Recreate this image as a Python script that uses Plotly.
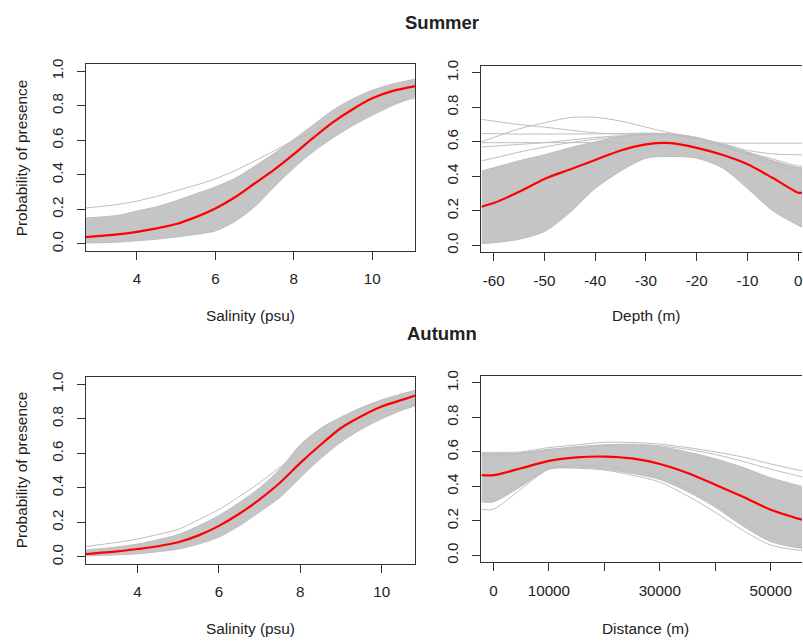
import plotly.graph_objects as go

# ---------------- data ----------------
# Summer - salinity
sal_s_x = [2.7, 3.5, 4.0, 4.5, 5.0, 5.5, 6.0, 6.5, 7.0, 7.5, 8.0, 8.5, 9.0, 9.5, 10.0, 10.5, 11.1]
sal_s_red = [0.040, 0.055, 0.070, 0.090, 0.115, 0.155, 0.205, 0.270, 0.350, 0.430, 0.520, 0.615, 0.705, 0.780, 0.843, 0.885, 0.914]
sal_s_lo = [0.005, 0.010, 0.018, 0.027, 0.040, 0.055, 0.075, 0.130, 0.215, 0.330, 0.440, 0.535, 0.615, 0.685, 0.745, 0.800, 0.855]
sal_s_hi = [0.150, 0.165, 0.190, 0.215, 0.250, 0.290, 0.330, 0.380, 0.450, 0.525, 0.605, 0.690, 0.775, 0.840, 0.890, 0.925, 0.955]
sal_s_out = [0.208, 0.228, 0.248, 0.275, 0.308, 0.340, 0.377, 0.425, 0.480, 0.540, 0.600, 0.650, 0.700, 0.745, 0.785, 0.815, 0.845]

# Summer - depth
dep_x = [-62.4, -60, -55, -50, -45, -40, -35, -30, -25, -20, -15, -10, -5, 0, 0.73]
dep_red = [0.224, 0.245, 0.310, 0.385, 0.440, 0.495, 0.550, 0.585, 0.592, 0.565, 0.525, 0.470, 0.390, 0.305, 0.305]
dep_lo = [0.010, 0.015, 0.035, 0.080, 0.190, 0.330, 0.430, 0.505, 0.515, 0.505, 0.450, 0.330, 0.200, 0.115, 0.105]
dep_hi = [0.430, 0.450, 0.490, 0.525, 0.565, 0.600, 0.630, 0.648, 0.645, 0.625, 0.585, 0.540, 0.490, 0.450, 0.450]
dep_line_a = [0.730, 0.720, 0.700, 0.685, 0.668, 0.652, 0.645, 0.642, 0.640, 0.620, 0.590, 0.550, 0.530, 0.525, 0.525]
dep_line_b = [0.600, 0.625, 0.675, 0.710, 0.740, 0.742, 0.720, 0.685, 0.650, 0.625, 0.585, 0.540, 0.500, 0.460, 0.460]
dep_line_c = [0.595, 0.595, 0.595, 0.595, 0.595, 0.595, 0.595, 0.595, 0.595, 0.593, 0.592, 0.592, 0.592, 0.592, 0.592]
dep_line_d = [0.648, 0.647, 0.645, 0.645, 0.645, 0.646, 0.648, 0.650, 0.645, 0.620, 0.580, 0.530, 0.490, 0.450, 0.450]
dep_line_e = [0.490, 0.505, 0.540, 0.570, 0.595, 0.615, 0.630, 0.640, 0.640, 0.620, 0.580, 0.535, 0.485, 0.445, 0.445]
dep_line_f = [0.570, 0.575, 0.585, 0.595, 0.610, 0.625, 0.635, 0.640, 0.640, 0.620, 0.575, 0.525, 0.470, 0.420, 0.420]

# Autumn - salinity
sal_a_x = [2.73, 3.5, 4.0, 4.5, 5.0, 5.5, 6.0, 6.5, 7.0, 7.5, 8.0, 8.5, 9.0, 9.5, 10.0, 10.5, 10.83]
sal_a_red = [0.017, 0.032, 0.046, 0.062, 0.085, 0.125, 0.180, 0.250, 0.334, 0.430, 0.545, 0.650, 0.747, 0.815, 0.871, 0.910, 0.935]
sal_a_lo = [0.006, 0.012, 0.018, 0.030, 0.046, 0.075, 0.115, 0.180, 0.260, 0.345, 0.460, 0.570, 0.665, 0.740, 0.800, 0.850, 0.875]
sal_a_hi = [0.040, 0.058, 0.075, 0.100, 0.130, 0.180, 0.240, 0.315, 0.400, 0.510, 0.650, 0.745, 0.810, 0.865, 0.910, 0.945, 0.965]
sal_a_out = [0.060, 0.085, 0.104, 0.130, 0.160, 0.215, 0.275, 0.350, 0.430, 0.520, 0.600, 0.680, 0.740, 0.790, 0.835, 0.865, 0.885]

# Autumn - distance
dist_x = [-2160, 0, 5000, 10000, 15000, 20000, 25000, 30000, 35000, 40000, 45000, 50000, 55640]
dist_red = [0.465, 0.465, 0.505, 0.548, 0.568, 0.573, 0.562, 0.530, 0.478, 0.410, 0.340, 0.265, 0.207]
dist_lo = [0.310, 0.310, 0.400, 0.500, 0.510, 0.500, 0.475, 0.440, 0.370, 0.280, 0.170, 0.080, 0.040]
dist_hi = [0.590, 0.590, 0.595, 0.615, 0.630, 0.640, 0.640, 0.630, 0.600, 0.560, 0.510, 0.450, 0.400]
dist_line_a = [0.597, 0.597, 0.600, 0.625, 0.640, 0.655, 0.655, 0.645, 0.625, 0.600, 0.570, 0.530, 0.490]
dist_line_b = [0.580, 0.580, 0.590, 0.610, 0.625, 0.640, 0.645, 0.635, 0.615, 0.585, 0.545, 0.500, 0.455]
dist_line_c = [0.267, 0.268, 0.385, 0.500, 0.520, 0.520, 0.500, 0.460, 0.390, 0.300, 0.200, 0.110, 0.060]
dist_line_d = [0.330, 0.330, 0.410, 0.500, 0.505, 0.495, 0.465, 0.425, 0.345, 0.250, 0.145, 0.060, 0.028]

y_ticks = [0.0, 0.2, 0.4, 0.6, 0.8, 1.0]
y_labels = ["0.0", "0.2", "0.4", "0.6", "0.8", "1.0"]
sal_ticks = [4, 6, 8, 10]
dep_ticks = [-60, -50, -40, -30, -20, -10, 0]
dist_ticks = [0, 10000, 20000, 30000, 40000, 50000]
dist_labels = ["0", "10000", "", "30000", "", "50000"]

# ---------------- styling ----------------
W, H = 803, 641
GREY = "#BEBEBE"
FILL = "#C5C5C5"
RED = "#FF0000"
AX = "#333333"
TXT = "#222222"
FONT = "Liberation Sans, Arial, sans-serif"


def px_x(p):
    return p / W


def px_y(p):
    return 1 - p / H


panels = [
    dict(sfx="", x=sal_s_x, red=sal_s_red, lo=sal_s_lo, hi=sal_s_hi, lines=[sal_s_out],
         xdom=(86, 416), ydom=(59, 247.5), xr=[2.70, 11.10], tv=sal_ticks, tt=[str(t) for t in sal_ticks], right=False),
    dict(sfx="2", x=dep_x, red=dep_red, lo=dep_lo, hi=dep_hi,
         lines=[dep_line_a, dep_line_b, dep_line_c, dep_line_d, dep_line_e, dep_line_f],
         xdom=(482, 803), ydom=(60.5, 249), xr=[-62.42, 0.73], tv=dep_ticks, tt=[str(t) for t in dep_ticks], right=True),
    dict(sfx="3", x=sal_a_x, red=sal_a_red, lo=sal_a_lo, hi=sal_a_hi, lines=[sal_a_out],
         xdom=(86, 416), ydom=(375.5, 564), xr=[2.73, 10.83], tv=sal_ticks, tt=[str(t) for t in sal_ticks], right=False),
    dict(sfx="4", x=dist_x, red=dist_red, lo=dist_lo, hi=dist_hi,
         lines=[dist_line_a, dist_line_b, dist_line_c, dist_line_d],
         xdom=(482, 803), ydom=(374, 562.5), xr=[-2160, 55640], tv=dist_ticks, tt=dist_labels, right=True),
]

fig = go.Figure()
layout_axes = {}
for p in panels:
    xa = "x" + p["sfx"]
    ya = "y" + p["sfx"]
    common = dict(xaxis=xa, yaxis=ya, mode="lines", hoverinfo="skip", showlegend=False)
    fig.add_trace(go.Scatter(x=p["x"], y=p["lo"], line=dict(color=GREY, width=1, shape="spline", smoothing=0.8), **common))
    fig.add_trace(go.Scatter(x=p["x"], y=p["hi"], fill="tonexty", fillcolor=FILL,
                             line=dict(color=GREY, width=1, shape="spline", smoothing=0.8), **common))
    for ln in p["lines"]:
        fig.add_trace(go.Scatter(x=p["x"], y=ln, line=dict(color=GREY, width=1, shape="spline", smoothing=0.8), **common))
    fig.add_trace(go.Scatter(x=p["x"], y=p["red"], line=dict(color=RED, width=2.2, shape="spline", smoothing=0.8), **common))

    tickfont = dict(family=FONT, size=15.2, color=TXT)
    layout_axes["xaxis" + p["sfx"]] = dict(
        domain=[px_x(p["xdom"][0]), px_x(p["xdom"][1])], range=p["xr"], anchor=ya,
        tickmode="array", tickvals=p["tv"], ticktext=p["tt"], ticks="outside", ticklen=8,
        tickwidth=1, tickcolor=AX, showline=True, linecolor=AX, linewidth=1, mirror=True,
        showgrid=False, zeroline=False, tickfont=tickfont, ticklabelstandoff=6,
        ticklabeloverflow="allow", fixedrange=True)
    layout_axes["yaxis" + p["sfx"]] = dict(
        domain=[px_y(p["ydom"][1]), px_y(p["ydom"][0])], range=[-0.04, 1.04], anchor=xa,
        tickmode="array", tickvals=y_ticks, ticktext=y_labels, ticks="outside", ticklen=8,
        tickwidth=1, tickcolor=AX, showline=True, linecolor=AX, linewidth=1,
        mirror=(not p["right"]), showgrid=False, zeroline=False, tickfont=tickfont,
        tickangle=-90, ticklabelstandoff=8, fixedrange=True)

def ann(text, x, y, size=15.4, bold=False, angle=0):
    return dict(text=("<b>%s</b>" % text) if bold else text, x=px_x(x), y=px_y(y), xref="paper", yref="paper",
                xanchor="center", yanchor="middle", showarrow=False, textangle=angle,
                font=dict(family=FONT, size=size, color=TXT))

annotations = [
    ann("Summer", 443, 17, size=18.5, bold=True),
    ann("Autumn", 443, 331, size=18.5, bold=True),
    ann("Salinity (psu)", 251, 313),
    ann("Depth (m)", 646.5, 313),
    ann("Salinity (psu)", 251, 629),
    ann("Distance (m)", 646.5, 629),
    ann("Probability of presence", 21.5, 153.5, angle=-90),
    ann("Probability of presence", 21.5, 469, angle=-90),
]

fig.update_layout(width=W, height=H, margin=dict(l=0, r=0, t=0, b=0),
                  paper_bgcolor="white", plot_bgcolor="white", showlegend=False,
                  annotations=annotations, **layout_axes)

fig.write_html("out.html")
